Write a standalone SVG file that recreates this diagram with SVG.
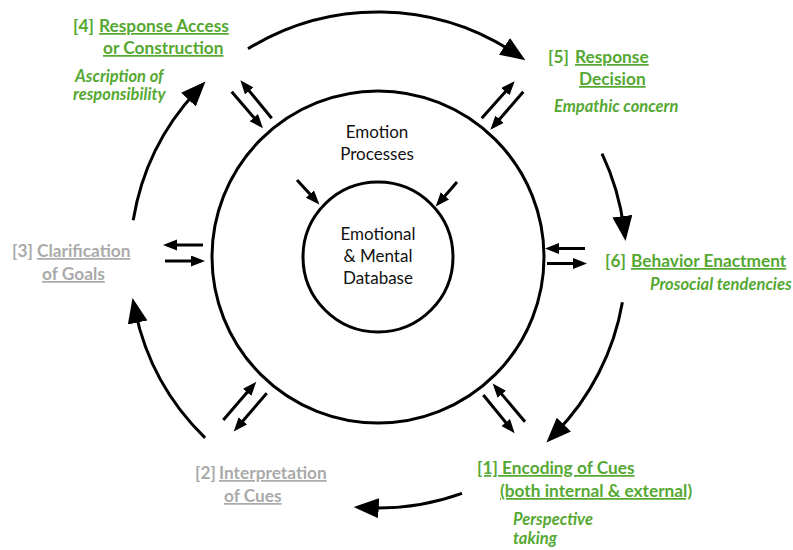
<svg xmlns="http://www.w3.org/2000/svg" width="793" height="550" viewBox="0 0 793 550">
<defs>
<style>
.ring{fill:none;stroke:#000;stroke-width:3}
.cyc{fill:none;stroke:#000;stroke-width:3;marker-end:url(#big)}
.sm{fill:none;stroke:#000;stroke-width:3;marker-end:url(#small)}
.core{font-family:Lato,"Liberation Sans",sans-serif;font-size:17px;fill:#111;text-anchor:middle}
.g{font-family:Lato,"Liberation Sans",sans-serif;font-size:17.3px;font-weight:bold;fill:#55a832}
.gr{font-family:Lato,"Liberation Sans",sans-serif;font-size:17.3px;font-weight:bold;fill:#aaaaaa}
.it{font-family:Lato,"Liberation Sans",sans-serif;font-size:16.5px;font-weight:bold;font-style:italic;fill:#55a832}
.u{text-decoration:underline}
</style>
<marker id="big" markerUnits="userSpaceOnUse" markerWidth="28" markerHeight="22" refX="12" refY="10" orient="auto">
<path d="M0,0 L25,10 L0,20 z" fill="#000"/>
</marker>
<marker id="small" markerUnits="userSpaceOnUse" markerWidth="15" markerHeight="12" refX="5" refY="5.5" orient="auto">
<path d="M0,0 L14,5.5 L0,11 z" fill="#000"/>
</marker>
</defs>
<rect width="793" height="550" fill="#fff"/>

<g id="emotion-processes">
<circle class="ring" cx="378" cy="257" r="166"/>
<text class="core" x="377" y="138">Emotion</text>
<text class="core" x="377" y="160">Processes</text>
</g>
<g id="database">
<circle class="ring" cx="378" cy="257" r="75"/>
<text class="core" x="378" y="240">Emotional</text>
<text class="core" x="378" y="262">&amp; Mental</text>
<text class="core" x="378" y="284">Database</text>
</g>

<g id="step4">
<text class="g" x="73" y="32">[4]</text>
<text class="g u" x="99" y="32">Response Access</text>
<text class="g u" x="103" y="54">or Construction</text>
<text class="it" x="75" y="82">Ascription of</text>
<text class="it" x="73" y="100">responsibility</text>
</g>
<g id="step5">
<text class="g" x="548" y="63">[5]</text>
<text class="g u" x="575" y="63">Response</text>
<text class="g u" x="579" y="85">Decision</text>
<text class="it" x="554" y="112">Empathic concern</text>
</g>
<g id="step6">
<text class="g" x="605" y="267">[6]</text>
<text class="g u" x="631" y="267">Behavior Enactment</text>
<text class="it" x="650" y="290">Prosocial tendencies</text>
</g>
<g id="step1">
<text class="g u" x="477" y="474">[1] Encoding of Cues</text>
<text class="g u" x="500" y="497">(both internal &amp; external)</text>
<text class="it" x="513" y="525">Perspective</text>
<text class="it" x="513" y="544">taking</text>
</g>
<g id="step2">
<text class="gr" x="195" y="479">[2]</text>
<text class="gr u" x="219" y="479">Interpretation</text>
<text class="gr u" x="224" y="502">of Cues</text>
</g>
<g id="step3">
<text class="gr" x="12" y="257">[3]</text>
<text class="gr u" x="37" y="257">Clarification</text>
<text class="gr u" x="42" y="280">of Goals</text>
</g>

<g id="connectors">
<path class="cyc" d="M248,48.8 A248,248 0 0 1 514.5,53"/>
<path class="cyc" d="M602,153.6 A248,248 0 0 1 623.9,228.1"/>
<path class="cyc" d="M622.4,302.2 A248,248 0 0 1 555.5,433.2"/>
<path class="cyc" d="M462,493.3 A248,248 0 0 1 366.7,507.7"/>
<path class="cyc" d="M205.1,437.8 A248,248 0 0 1 135.2,310.7"/>
<path class="cyc" d="M133.2,220.3 A248,248 0 0 1 196.6,90.9"/>

<line class="sm" x1="231.7" y1="91.7" x2="257.1" y2="121.4"/>
<line class="sm" x1="271.7" y1="118.3" x2="246.1" y2="87.1"/>
<line class="sm" x1="481.7" y1="118.3" x2="508.7" y2="87.9"/>
<line class="sm" x1="523.3" y1="91.7" x2="496.3" y2="123"/>
<line class="sm" x1="585" y1="248.5" x2="554" y2="248.5"/>
<line class="sm" x1="547" y1="263.5" x2="578" y2="263.5"/>
<line class="sm" x1="203" y1="245" x2="172" y2="245"/>
<line class="sm" x1="165" y1="261" x2="196" y2="261"/>
<line class="sm" x1="223.3" y1="420" x2="250.4" y2="388.6"/>
<line class="sm" x1="266.7" y1="393.3" x2="239.6" y2="424.7"/>
<line class="sm" x1="483.3" y1="395" x2="508.9" y2="426.3"/>
<line class="sm" x1="525" y1="421.7" x2="498.5" y2="390.4"/>
<line class="sm" x1="297" y1="180" x2="313.3" y2="197.8"/>
<line class="sm" x1="457" y1="182" x2="441.6" y2="199.7"/>
</g>
</svg>
